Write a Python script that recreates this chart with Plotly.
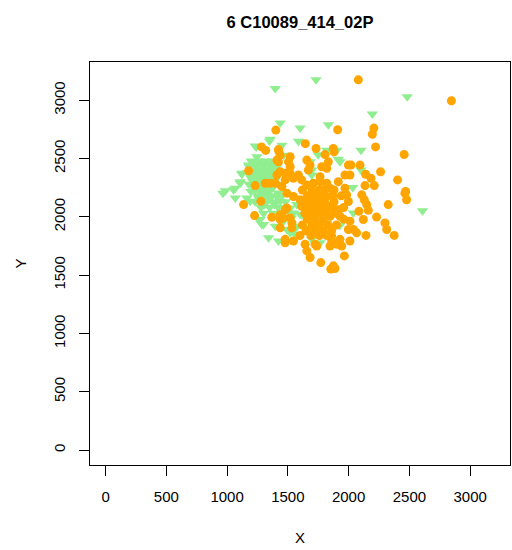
import plotly.graph_objects as go

# Light green group (triangles)
green_x = [1732, 1396, 2482, 2195, 1437, 1601, 1833, 1349, 1587, 2102, 1240, 1915, 2102, 2608,
           2034, 1929, 966, 1053, 1067, 1108, 1122, 1163, 1190, 1259, 1286, 1341, 1423, 1519,
           1560, 1697, 1683, 1683, 1749, 1820, 1902, 1519, 1601, 1464, 1196, 1272, 1328, 1410,
           1437, 1272, 1300, 1396, 1492, 1546, 1574, 1546, 1574, 1614, 1820, 1765, 1451, 1464,
           1245, 1204, 1177, 1122, 1108, 1067, 985, 1697, 1697, 1929, 2039, 1355, 1231,
           1200, 1260, 1320, 1380, 1180, 1240, 1300, 1360, 1410, 1170, 1230, 1290, 1350, 1400,
           1200, 1260, 1320, 1380, 1180, 1240, 1300, 1360, 1420, 1230, 1290, 1350, 1250, 1310,
           1370, 1450, 1230, 1300, 1380, 1480, 1280, 1350, 1420, 1300, 1380, 1460,
           1230, 1290, 1350, 1210, 1270, 1330, 1390, 1200, 1260, 1320, 1380, 1210, 1270, 1330,
           1390, 1260, 1320, 1380, 1280, 1340, 1420, 1260, 1340, 1430, 1310, 1390, 1500, 1530]
green_y = [3175, 3101, 3030, 2883, 2804, 2761, 2789, 2651, 2648, 2572, 2600, 2495, 2402, 2053,
           2251, 1929, 2203, 2232, 2161, 2288, 2365, 2161, 2133, 1977, 1934, 1821, 1793, 1863,
           1849, 1807, 1906, 2472, 2532, 2572, 2572, 2076, 2022, 1963, 2217, 2232, 2203, 2175,
           2133, 1977, 1934, 1920, 1892, 1878, 1920, 2033, 2105, 2019, 1948, 1778, 2614, 2529,
           2515, 2472, 2444, 2373, 2302, 2246, 2223, 2402, 2359, 2472, 2033, 2665, 2608,
           2480, 2480, 2480, 2480, 2430, 2430, 2430, 2430, 2430, 2380, 2380, 2380, 2380, 2380,
           2330, 2330, 2330, 2330, 2280, 2280, 2280, 2280, 2280, 2230, 2230, 2230, 2180, 2180,
           2180, 2180, 2130, 2130, 2130, 2130, 2080, 2080, 2080, 2030, 2030, 2030,
           2455, 2455, 2455, 2405, 2405, 2405, 2405, 2355, 2355, 2355, 2355, 2305, 2305, 2305,
           2305, 2255, 2255, 2255, 2205, 2205, 2205, 2155, 2155, 2155, 2105, 2105, 2050, 1990]

# Orange group (circles)
orange_x = [2080, 2846, 2208, 2195, 1910, 1401, 1644, 2222, 2457, 1732, 1874, 1880, 1283, 1318,
            1426, 1998, 2020, 2094, 1970, 2011, 2140, 2184, 2263, 2403, 2135, 2211, 2469, 1915,
            1970, 2463, 2477, 2326, 2230, 2299, 2313, 2375, 2143, 2121, 1965, 2108, 2129, 2149,
            2162, 2085, 2011, 1998, 2039, 2066, 1915, 1929, 1929, 1902, 1943, 2011, 1984, 1998,
            1888, 1278, 1136, 1226, 1368, 1437, 1437, 1492, 1478, 1519, 1533, 1533, 1478, 1478,
            1546, 1642, 1724, 1738, 1656, 1683, 1771, 1853, 1492, 1546, 1601, 1614, 1656, 1792,
            1820, 1833, 1847, 1861, 1861, 1847, 1875, 1423, 1437, 1519, 1505, 1519, 1410, 1423,
            1656, 1683, 1669, 1779, 1820, 1765, 1806, 1833, 1177, 1437, 1478, 1519, 1410, 1314,
            1355, 1396, 1231, 1546, 1587, 1614, 1656, 1710, 1765, 1820, 1847, 1478, 1451, 1437,
            1464,
            1620, 1700, 1760, 1880, 1660, 1720, 1780, 1870, 1940, 1700, 1760, 1800, 1880, 1660,
            1720, 1780, 1870, 1960, 1640, 1700, 1760, 1820, 1890, 1660, 1720, 1790, 1960, 1620,
            1700, 1760, 1830, 1900, 1650, 1720, 1790, 1860, 1600, 1690, 1760, 1820]
orange_y = [3175, 2996, 2761, 2708, 2747, 2744, 2628, 2600, 2535, 2586, 2586, 2557, 2600, 2570,
            2563, 2444, 2444, 2444, 2359, 2359, 2365, 2331, 2387, 2317, 2268, 2268, 2217, 2302,
            2246, 2203, 2147, 2105, 1999, 1948, 1892, 1841, 1841, 1977, 1665, 2189, 2147, 2105,
            2056, 2048, 1963, 1892, 1892, 1863, 2062, 2005, 1807, 1765, 1750, 1793, 2189, 2132,
            1557, 2133, 2105, 2011, 1997, 1977, 1906, 2076, 2062, 1991, 1948, 1906, 1807, 1778,
            1793, 1765, 1765, 1750, 1708, 1651, 1608, 1552, 2203, 2175, 2147, 2090, 2118, 2232,
            2175, 2090, 2005, 1835, 1793, 1750, 1580, 2577, 2529, 2515, 2472, 2430, 2487, 2472,
            2487, 2444, 2402, 2430, 2416, 2345, 2534, 2472, 2395, 2387, 2373, 2373, 2359, 2288,
            2288, 2288, 2268, 2331, 2359, 2317, 2274, 2288, 2302, 2288, 2246, 2317, 2260, 2019,
            1991,
            2230, 2230, 2230, 2230, 2180, 2180, 2180, 2180, 2180, 2130, 2130, 2130, 2130, 2080,
            2080, 2080, 2080, 2080, 2030, 2030, 2030, 2030, 2030, 1980, 1980, 1980, 1980, 1930,
            1930, 1930, 1930, 1930, 1880, 1880, 1880, 1880, 1840, 1840, 1840, 1840]

title_text = "6 C10089_414_02P"
tick_vals = [0, 500, 1000, 1500, 2000, 2500, 3000]
axis_range = [-128, 3328]

fig = go.Figure()
fig.add_trace(go.Scatter(
    x=green_x, y=green_y, mode="markers",
    marker=dict(symbol="triangle-down", size=10, color="#90EE90", line=dict(width=0)),
    showlegend=False, hoverinfo="skip"))
fig.add_trace(go.Scatter(
    x=orange_x, y=orange_y, mode="markers",
    marker=dict(symbol="circle", size=9, color="#FFA500", line=dict(width=0)),
    showlegend=False, hoverinfo="skip"))

font = "Liberation Sans, Arial, sans-serif"
axis_common = dict(
    range=axis_range, tickvals=tick_vals, showgrid=False, zeroline=False,
    showline=True, linecolor="black", linewidth=1, mirror=True,
    ticks="outside", ticklen=10, tickcolor="black", tickwidth=1,
    tickfont=dict(family=font, size=15, color="black"),
)
fig.update_layout(
    width=512, height=550,
    margin=dict(l=90, r=2, t=62, b=85),
    paper_bgcolor="white", plot_bgcolor="white",
    title=dict(text="<b>" + title_text + "</b>", x=300 / 512, xanchor="center",
               y=1 - 22 / 550, yanchor="middle", yref="container",
               font=dict(family=font, size=16.5, color="black")),
    xaxis=dict(**axis_common, ticklabelstandoff=8,
               title=dict(text="X", font=dict(family=font, size=15, color="black"),
                          standoff=28)),
    yaxis=dict(**axis_common, tickangle=-90, ticklabelstandoff=8,
               title=dict(text="Y", font=dict(family=font, size=15, color="black"),
                          standoff=20)),
)

fig.write_html("out.html")
